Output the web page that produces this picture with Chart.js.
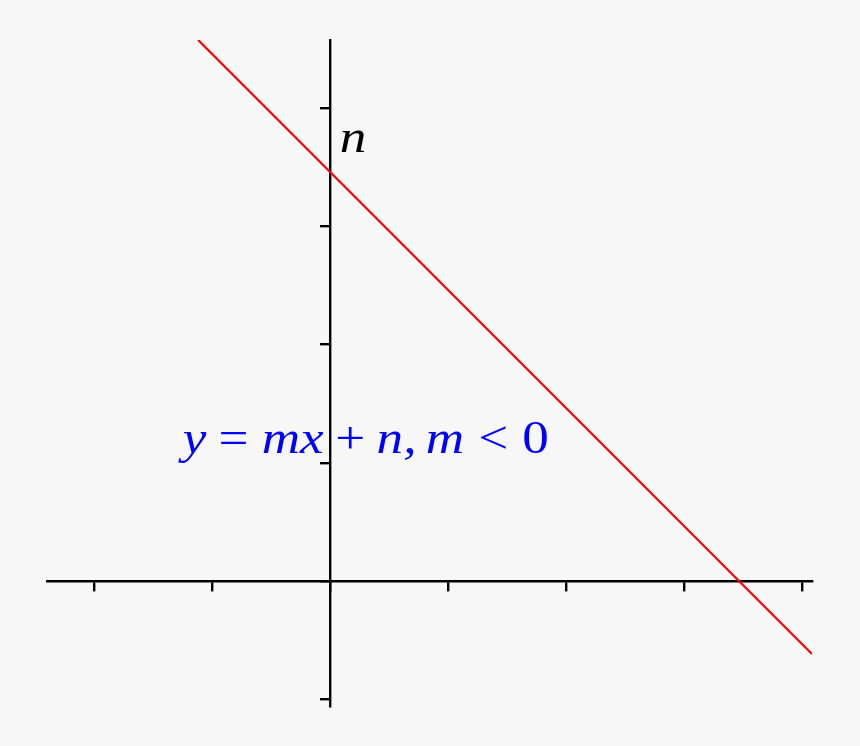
<!DOCTYPE html>
<html>
<head>
<meta charset="utf-8">
<script src="https://cdn.jsdelivr.net/npm/chart.js@4/dist/chart.umd.min.js"></script>
<style>
  html, body { margin: 0; padding: 0; background: #f7f7f7; }
  #wrap { width: 860px; height: 746px; }
</style>
</head>
<body>
<div id="wrap"><canvas id="chart"></canvas></div>
<script>
// straight line y = m*x + n (m = -1, n about 3.46)
const lineX = [-1.12, 4.08];
const lineY = [4.58, -0.62];

// axes
const xRange = [-2.40, 4.08];
const yRange = [-1.06, 4.58];
const xTicks = [-2, -1, 0, 1, 2, 3, 4];
const yTicks = [-1, 0, 1, 2, 3, 4];

// labels (text, italic?, gap before in em)
const interceptLabel = 'n';
const interceptAt = [0.08, 3.63];
const formulaParts = [
    ['y', true, 0],
    ['=', false, 0.26],
    ['m', true, 0.28],
    ['x', true, 0],
    ['+', false, 0.25],
    ['n', true, 0.24],
    [',', true, 0],
    ['m', true, 0.2],
    ['<', false, 0.3],
    ['0', false, 0.3]
];
const formulaAt = [-1.25, 1.08];

const FONT_SIZE = 47;
const STRETCH = 1.13; // the TeX font is wider than Liberation Serif
const FONT_FAMILY = '"Liberation Serif", "DejaVu Serif", serif';

function drawWord(ctx, txt, x, y) {
    ctx.save();
    ctx.translate(x, y);
    ctx.scale(STRETCH, 1);
    ctx.fillText(txt, 0, 0);
    ctx.restore();
    return ctx.measureText(txt).width * STRETCH;
}

const mathText = {
    id: 'mathText',
    beforeDraw(chart) {
        const ctx = chart.ctx;
        const xs = chart.scales.x;
        const ys = chart.scales.y;
        ctx.save();
        ctx.textBaseline = 'alphabetic';
        ctx.textAlign = 'left';

        // formula in blue
        ctx.fillStyle = '#0000ff';
        let px = xs.getPixelForValue(formulaAt[0]);
        const py = ys.getPixelForValue(formulaAt[1]);
        formulaParts.forEach(([txt, italic, gap]) => {
            ctx.font = (italic ? 'italic ' : '') + FONT_SIZE + 'px ' + FONT_FAMILY;
            px += gap * FONT_SIZE;
            px += drawWord(ctx, txt, px, py);
        });

        // n next to the intercept
        ctx.fillStyle = '#000000';
        ctx.font = 'italic ' + FONT_SIZE + 'px ' + FONT_FAMILY;
        drawWord(ctx, interceptLabel, xs.getPixelForValue(interceptAt[0]), ys.getPixelForValue(interceptAt[1]));
        ctx.restore();
    }
};

const axisStyle = {
    grid: {
        drawOnChartArea: false,
        color: '#000000',
        tickColor: '#000000',
        lineWidth: 2.4,
        tickLength: 9
    },
    border: { color: '#000000', width: 2.4 },
    ticks: { display: false }
};

new Chart(document.getElementById('chart'), {
    type: 'scatter',
    data: {
        datasets: [{
            data: lineX.map((v, i) => ({ x: v, y: lineY[i] })),
            showLine: true,
            borderColor: '#ff0000',
            borderWidth: 2.2,
            pointRadius: 0,
            fill: false
        }]
    },
    options: {
        responsive: true,
        maintainAspectRatio: false,
        animation: false,
        layout: { padding: { left: 47, right: 48, top: 40, bottom: 40 } },
        plugins: { legend: { display: false }, tooltip: { enabled: false } },
        scales: {
            x: {
                type: 'linear',
                min: xRange[0],
                max: xRange[1],
                position: { y: 0 },
                afterBuildTicks: s => { s.ticks = xTicks.map(v => ({ value: v })); },
                ...axisStyle
            },
            y: {
                type: 'linear',
                min: yRange[0],
                max: yRange[1],
                position: { x: 0 },
                afterBuildTicks: s => { s.ticks = yTicks.map(v => ({ value: v })); },
                ...axisStyle
            }
        }
    },
    plugins: [mathText]
});
</script>
</body>
</html>
